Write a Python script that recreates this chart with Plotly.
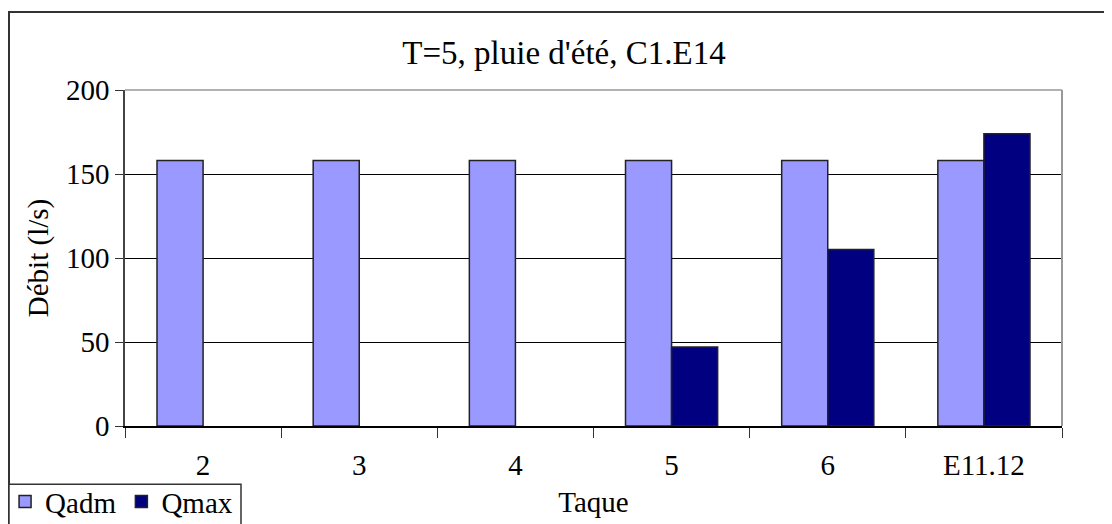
import plotly.graph_objects as go

taques = ["2", "3", "4", "5", "6", "E11.12"]
qadm = [158, 158, 158, 158, 158, 158]
qmax = [None, None, None, 47, 105, 174]

police = "Liberation Serif"
texte = dict(family=police, size=29, color="black")

fig = go.Figure()
fig.add_trace(go.Bar(x=taques, y=qadm, name="Qadm", marker=dict(color="#9999ff", line=dict(color="#222222", width=1.5))))
fig.add_trace(go.Bar(x=taques, y=qmax, name="Qmax", marker=dict(color="#000080", line=dict(color="#222222", width=1.5))))

fig.update_layout(
    width=1112, height=524,
    margin=dict(l=117, r=58, t=82, b=106, autoexpand=False),
    paper_bgcolor="white", plot_bgcolor="white",
    font=texte,
    title=dict(text="T=5, pluie d'été, C1.E14", x=0.5, xanchor="center", y=0.915, yanchor="middle",
               font=dict(family=police, size=33, color="black")),
    barmode="group", bargap=0.41, bargroupgap=0,
    showlegend=True,
    legend=dict(orientation="h", x=-0.128, xanchor="left", y=-0.149, yanchor="top",
                borderwidth=0, bgcolor="rgba(0,0,0,0)",
                font=texte, itemwidth=30, tracegroupgap=0),
)
fig.update_xaxes(title=dict(text="Taque", standoff=12, font=texte), tickfont=texte,
                 ticks="outside", tickson="boundaries", ticklen=10, ticklabelstandoff=12,
                 tickcolor="#333333", showline=True, linecolor="black", linewidth=1.5, mirror=False,
                 showgrid=False)
fig.update_yaxes(title=dict(text="Débit (l/s)", standoff=9, font=texte), tickfont=texte,
                 range=[0, 200], tickvals=[0, 50, 100, 150, 200],
                 ticks="outside", ticklen=8, tickcolor="#333333", showline=True, linecolor="#444444",
                 linewidth=1.5, showgrid=True, gridcolor="black", gridwidth=1, zeroline=False)

# bord gris de la zone de tracé (haut et droite)
fig.add_shape(type="line", xref="paper", yref="paper", x0=0, x1=1, y0=1, y1=1, line=dict(color="#999999", width=1.5))
fig.add_shape(type="line", xref="paper", yref="paper", x0=1, x1=1, y0=0, y1=1, line=dict(color="#999999", width=2))
# cadre du graphique
fig.add_shape(type="rect", xref="paper", yref="paper", x0=-0.1238, x1=1.2, y0=-0.5, y1=1.232,
              line=dict(color="#333333", width=2), fillcolor="rgba(0,0,0,0)", layer="below")
# cadre de la légende
fig.add_shape(type="rect", xref="paper", yref="paper", x0=-0.1238, x1=0.1238, y0=-0.5, y1=-0.173,
              line=dict(color="#333333", width=1.5), fillcolor="white", layer="below")

fig.write_html("out.html")
